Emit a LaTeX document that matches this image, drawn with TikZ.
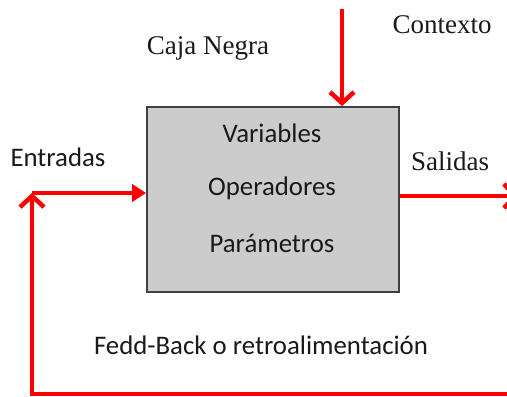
\documentclass[tikz,border=0pt]{standalone}
\usepackage{fontspec}
\setmainfont{Liberation Serif}
\newfontfamily\calib{Carlito}
\usetikzlibrary{arrows.meta}
\begin{document}
\begin{tikzpicture}[x=1pt,y=-1pt,
  redline/.style={draw=red,line width=4.5pt},
  barbtip/.style={-{Straight Barb[length=11pt,width=24pt,line width=4.5pt]}},
  tritip/.style={-{Triangle[length=14pt,width=17pt]}},
  sanslbl/.style={font=\calib\fontsize{26.8}{31}\selectfont,text=black!90,inner sep=0pt},
  seriflbl/.style={font=\fontsize{27}{31}\selectfont,text=black!90,inner sep=0pt},
  blackbox/.style={draw=black!75,line width=1.8pt,fill=black!20,minimum width=252pt,minimum height=185pt,inner sep=0pt}]
\useasboundingbox (0,0) rectangle (507,397);
\clip (0,0) rectangle (507,397);
\node[blackbox] (box) at (273,199.5) {};
\node[sanslbl] (var) at (272,133) {Variables};
\node[sanslbl] (op) at (272,188) {Operadores};
\node[sanslbl] (par) at (272,243) {Parámetros};
\node[seriflbl] (caja) at (208,48) {Caja Negra};
\node[seriflbl] (ctx) at (442,25) {Contexto};
\node[sanslbl] (ent) at (58,157) {Entradas};
\node[seriflbl] (sal) at (450,161) {Salidas};
\node[sanslbl] (fb) at (261,345) {Fedd-Back o retroalimentación};
\coordinate (ctxtop) at (342,9);
\coordinate (out) at (518,196);
\coordinate (fbR) at (515,394);
\coordinate (fbBL) at (32,394);
\coordinate (fbT) at (32,193);
\draw[redline,barbtip] (ctxtop) -- (ctxtop |- box.north);
\draw[redline,barbtip] (box.east |- out) -- (out);
\draw[redline,barbtip] (fbR) -- (fbBL) -- (fbT);
\draw[redline,tritip] (fbT) -- (box.west |- fbT);
\end{tikzpicture}
\end{document}
